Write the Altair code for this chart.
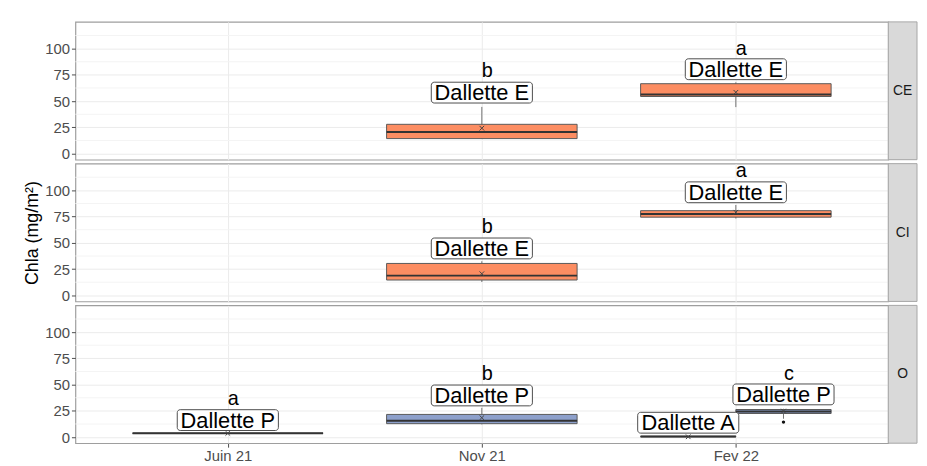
import json
import altair as alt
import pandas as pd

# ---- categories ----
sites = ["CE", "CI", "O"]
months = ["Juin 21", "Nov 21", "Fev 22"]
types = ["Dallette A", "Dallette E", "Dallette P"]
type_colors = ["#66C2A5", "#FC8D62", "#8DA0CB"]

# ---- boxplot statistics ----
box_site = ["CE", "CE", "CI", "CI", "O", "O", "O", "O"]
box_month = ["Nov 21", "Fev 22", "Nov 21", "Fev 22", "Juin 21", "Nov 21", "Fev 22", "Fev 22"]
box_type = ["Dallette E", "Dallette E", "Dallette E", "Dallette E",
            "Dallette P", "Dallette P", "Dallette A", "Dallette P"]
box_lo = [14.3, 44.3, 12.7, 73.2, 3.6, 12.1, 0.2, 17.5]
box_q1 = [14.3, 54.4, 14.6, 74.5, 3.6, 12.8, 0.2, 22.5]
box_med = [20.6, 56.3, 18.8, 77.6, 3.6, 15.6, 0.5, 24.5]
box_q3 = [27.9, 66.6, 30.4, 80.7, 3.6, 21.6, 0.8, 26.3]
box_hi = [44.5, 67.9, 32.5, 86.1, 3.6, 27.9, 0.8, 27.0]
box_mean = [24.2, 58.4, 20.6, 79.2, 3.6, 18.5, 0.3, 24.8]
label_y = [58.1, 80.4, 44.7, 98.2, 16.2, 39.7, 13.7, 40.7]
letters = ["b", "a", "b", "a", "a", "b", "", "c"]
letter_y = [72.6, 94.0, 59.4, 112.8, 31.0, 54.7, 0.0, 54.7]

# outliers
out_site = ["O"]
out_month = ["Fev 22"]
out_type = ["Dallette P"]
out_val = [14.3]

# axis ticks
y_ticks = [0, 25, 50, 75, 100]
y_minor = [12.5, 37.5, 62.5, 87.5, 112.5]
y_domain = [-5.8, 125.5]

# ---- build tables ----
df = pd.DataFrame({
    "site": box_site, "month": box_month, "type": box_type,
    "lo": box_lo, "q1": box_q1, "med": box_med, "q3": box_q3, "hi": box_hi,
    "mean": box_mean, "label_y": label_y, "letter": letters, "letter_y": letter_y,
})
df["type_label"] = df["type"]
df["mi"] = df["month"].map({m: i for i, m in enumerate(months)})
df["ti"] = df["type"].map({t: i for i, t in enumerate(types)})
dodge = 0.75
xc, x0, x1 = [], [], []
for _, r in df.iterrows():
    grp = df[(df.site == r.site) & (df.month == r.month)].sort_values("ti")
    n = len(grp)
    k = list(grp["ti"]).index(r.ti)
    w = dodge / n
    c = r.mi + (k - (n - 1) / 2) * w
    xc.append(c)
    x0.append(c - w / 2)
    x1.append(c + w / 2)
df["xc"] = xc
df["x0"] = x0
df["x1"] = x1

outs = pd.DataFrame({"site": out_site, "month": out_month, "type": out_type, "v": out_val})
outs = outs.merge(df[["site", "month", "type", "xc"]], on=["site", "month", "type"])

W, H = 820, 139
FONT = "Liberation Sans"
label_expr = json.dumps(months) + "[datum.value]"
month_idx = list(range(len(months)))


def panel(site, show_x, show_title):
    b = df[df.site == site]
    xscale = alt.Scale(domain=[-0.6, 2.6], nice=False, zero=False)
    if show_x:
        xaxis = alt.Axis(values=month_idx, labelExpr=label_expr, title=None, grid=True,
                         gridColor="#ebebeb", domain=False, ticks=True, tickSize=4,
                         tickColor="#4d4d4d", labelFontSize=15, labelColor="#4d4d4d",
                         labelPadding=1, labelFont=FONT, labelOverlap=False)
    else:
        xaxis = alt.Axis(values=month_idx, labels=False, ticks=False, domain=False,
                         title=None, grid=True, gridColor="#ebebeb",
                         minExtent=0, maxExtent=0, labelPadding=0)
    yscale = alt.Scale(domain=y_domain, nice=False, zero=False)
    yaxis = alt.Axis(values=y_ticks, title="Chla (mg/m²)",
                     titleColor="#000000" if show_title else "transparent",
                     titleFontSize=18, titleFontWeight="normal", titleFont=FONT,
                     titlePadding=3, labelFontSize=15, labelColor="#4d4d4d",
                     labelFont=FONT, tickColor="#4d4d4d", tickSize=4, labelPadding=2,
                     labelOverlap=False, labelFlush=False,
                     domain=False, grid=True, gridColor="#ebebeb")

    def X(f):
        return alt.X(f, type="quantitative", scale=xscale, axis=xaxis)

    def Y(f):
        return alt.Y(f, type="quantitative", scale=yscale, axis=yaxis)

    minor = alt.Chart(pd.DataFrame({"v": y_minor})).mark_rule(
        color="#f4f4f4", strokeWidth=1
    ).encode(y=Y("v"))
    layers = [minor]

    base = alt.Chart(b)
    whisk = base.mark_rule(color="#707070", strokeWidth=1).encode(
        x=X("xc"), y=Y("lo"), y2="hi")
    box = base.mark_bar(stroke="#5a5a5a", strokeWidth=1).encode(
        x=X("x0"), x2="x1", y=Y("q1"), y2="q3",
        color=alt.Color("type:N", scale=alt.Scale(domain=types, range=type_colors),
                        legend=None))
    med = base.mark_rule(color="#333333", strokeWidth=2).encode(
        x=X("x0"), x2="x1", y=Y("med"))
    mean = base.mark_point(shape="M-1,-1L1,1M-1,1L1,-1", size=22, filled=False,
                           strokeWidth=1, color="#444444", opacity=1).encode(
        x=X("xc"), y=Y("mean"))
    layers += [whisk, box, med, mean]

    o = outs[outs.site == site]
    if len(o):
        layers.append(alt.Chart(o).mark_circle(size=12, color="#111111", opacity=1).encode(
            x=X("xc"), y=Y("v")))

    lrect = base.mark_rect(fill="white", stroke="#4d4d4d", strokeWidth=1, cornerRadius=3,
                           xOffset=-51, x2Offset=51, yOffset=-10.5, y2Offset=10.5).encode(
        x=X("xc"), x2="xc", y=Y("label_y"), y2="label_y")
    ltext = base.mark_text(fontSize=22, font=FONT, baseline="alphabetic", dy=7.8,
                           color="#000000").encode(
        x=X("xc"), y=Y("label_y"), text="type_label:N")
    lett = alt.Chart(b[b.letter != ""]).mark_text(
        fontSize=20, font=FONT, baseline="alphabetic", dx=5.5, color="#000000").encode(
        x=X("xc"), y=Y("letter_y"), text="letter:N")
    layers += [lrect, ltext, lett]

    sdf = pd.DataFrame({"site": [site]})
    srect = alt.Chart(sdf).mark_rect(fill="#d9d9d9", stroke="#a6a6a6", strokeWidth=1).encode(
        x=alt.value(W), x2=alt.value(W + 29), y=alt.value(0), y2=alt.value(H))
    stext = alt.Chart(sdf).mark_text(fontSize=14, font=FONT, color="#1a1a1a",
                                     baseline="middle", align="center").encode(
        x=alt.value(W + 14.5), y=alt.value(H / 2), text="site:N")
    layers += [srect, stext]

    return alt.layer(*layers).properties(width=W, height=H)


chart = alt.vconcat(
    panel("CE", False, False),
    panel("CI", False, True),
    panel("O", True, False),
    spacing=4,
    bounds="flush",
).properties(
    padding={"left": 15, "top": 10, "right": 0, "bottom": 0},
    background="white",
).configure_view(
    stroke="#9e9e9e", strokeWidth=1.2
)

chart.save("out.html", embed_options={"renderer": "svg", "actions": False})
